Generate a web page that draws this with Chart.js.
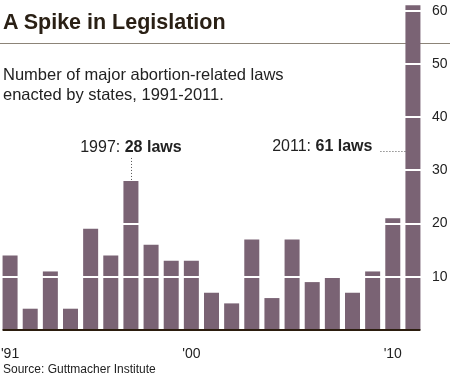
<!DOCTYPE html>
<html>
<head>
<meta charset="utf-8">
<script src="https://cdn.jsdelivr.net/npm/chart.js@4/dist/chart.umd.min.js"></script>
<style>
  body { margin: 0; background: #fff; }
  #wrap { position: relative; width: 450px; height: 379px; overflow: hidden; font-family: "Liberation Sans", Arial, sans-serif; color: #222; }
  #wrap canvas { position: absolute; left: 0; top: 0; z-index: 1; }
  .txt { position: absolute; z-index: 2; white-space: nowrap; }
  #title { left: 3px; top: 10px; font-size: 21.5px; font-weight: bold; color: #2a2015; }
  #rule { position: absolute; left: 0; top: 43px; width: 450px; height: 1px; background: #8c8478; z-index: 0; }
  #sub { left: 3px; top: 64px; font-size: 16.5px; line-height: 20px; color: #222; }
  #source { left: 3px; top: 362px; font-size: 12px; color: #222; }
</style>
</head>
<body>
<div id="wrap">
  <div id="title" class="txt">A Spike in Legislation</div>
  <div id="rule"></div>
  <div id="sub" class="txt">Number of major abortion-related laws<br>enacted by states, 1991-2011.</div>
  <div id="source" class="txt">Source: Guttmacher Institute</div>
  <canvas id="chart" width="450" height="379"></canvas>
</div>
<script>
// data
const years = [1991, 1992, 1993, 1994, 1995, 1996, 1997, 1998, 1999, 2000, 2001,
               2002, 2003, 2004, 2005, 2006, 2007, 2008, 2009, 2010, 2011];
const laws = [14, 4, 11, 4, 19, 14, 28, 16, 13, 13, 7,
              5, 17, 6, 17, 9, 10, 7, 11, 21, 61];
const xTickLabels = { 1991: "'91", 2000: "'00", 2010: "'10" };
const yTicks = [10, 20, 30, 40, 50, 60];
const callouts = [1997, 2011];

const barColor = '#7a6374';
const FONT = '"Liberation Sans", Arial, sans-serif';

// no extra padding from tick labels, the frame is fixed
function noPad(s) {
  s.paddingLeft = 0; s.paddingRight = 0; s.paddingTop = 0; s.paddingBottom = 0;
}

// baseline + the two callouts
const extras = {
  id: 'extras',
  afterDraw(chart) {
    const ctx = chart.ctx;
    const meta = chart.getDatasetMeta(0);
    const first = meta.data[0], last = meta.data[meta.data.length - 1];
    const base = chart.scales.y.getPixelForValue(0);

    ctx.save();
    ctx.strokeStyle = '#2b1d0e';
    ctx.lineWidth = 2;
    ctx.beginPath();
    ctx.moveTo(first.x - first.width / 2, base);
    ctx.lineTo(last.x + last.width / 2, base);
    ctx.stroke();

    ctx.textBaseline = 'middle';
    ctx.fillStyle = '#222';
    ctx.strokeStyle = '#555';
    ctx.lineWidth = 1;
    ctx.setLineDash([1, 2]);

    // 1997 callout: text centred above bar, dotted line down
    let i = years.indexOf(callouts[0]);
    let bar = meta.data[i];
    let a = years[i] + ': ', b = laws[i] + ' laws';
    ctx.font = '16px ' + FONT;
    let wa = ctx.measureText(a).width;
    ctx.font = 'bold 16px ' + FONT;
    let wb = ctx.measureText(b).width;
    let tx = bar.x - (wa + wb) / 2, ty = bar.y - 33;
    ctx.font = '16px ' + FONT;
    ctx.fillText(a, tx, ty);
    ctx.font = 'bold 16px ' + FONT;
    ctx.fillText(b, tx + wa, ty);
    ctx.beginPath();
    ctx.moveTo(Math.round(bar.x) + 0.5, ty + 10);
    ctx.lineTo(Math.round(bar.x) + 0.5, bar.y);
    ctx.stroke();

    // 2011 callout: text left of tall bar, dotted line across
    i = years.indexOf(callouts[1]);
    bar = meta.data[i];
    a = years[i] + ': '; b = laws[i] + ' laws';
    ctx.font = '16px ' + FONT;
    wa = ctx.measureText(a).width;
    ctx.font = 'bold 16px ' + FONT;
    wb = ctx.measureText(b).width;
    const left = bar.x - bar.width / 2;
    const right = left - 33;
    ty = 147;
    ctx.font = '16px ' + FONT;
    ctx.fillText(a, right - wa - wb, ty);
    ctx.font = 'bold 16px ' + FONT;
    ctx.fillText(b, right - wb, ty);
    ctx.beginPath();
    ctx.moveTo(right + 8, ty + 4.5);
    ctx.lineTo(left, ty + 4.5);
    ctx.stroke();
    ctx.restore();
  }
};

new Chart(document.getElementById('chart'), {
  type: 'bar',
  data: {
    labels: years,
    datasets: [{
      data: laws,
      backgroundColor: barColor,
      borderWidth: 0,
      barPercentage: 0.745,
      categoryPercentage: 1
    }]
  },
  options: {
    responsive: false,
    animation: false,
    events: [],
    layout: { padding: 0 },
    plugins: { legend: { display: false }, tooltip: { enabled: false } },
    scales: {
      x: {
        grid: { display: false },
        border: { display: false },
        ticks: {
          autoSkip: false,
          maxRotation: 0,
          padding: 8,
          color: '#222',
          font: { family: FONT, size: 14 },
          callback: function (v, idx) { return xTickLabels[years[idx]] || ''; }
        },
        afterFit: s => { s.height = 49; noPad(s); }
      },
      y: {
        position: 'right',
        min: 0,
        max: 62,
        grid: { color: '#ffffff', lineWidth: 2, drawTicks: false, z: 1 },
        border: { display: false },
        ticks: {
          padding: 9,
          color: '#222',
          font: { family: FONT, size: 14 },
          callback: v => v
        },
        afterBuildTicks: s => { s.ticks = yTicks.map(v => ({ value: v })); },
        afterFit: s => { s.width = 27; noPad(s); }
      }
    }
  },
  plugins: [extras]
});
</script>
</body>
</html>
